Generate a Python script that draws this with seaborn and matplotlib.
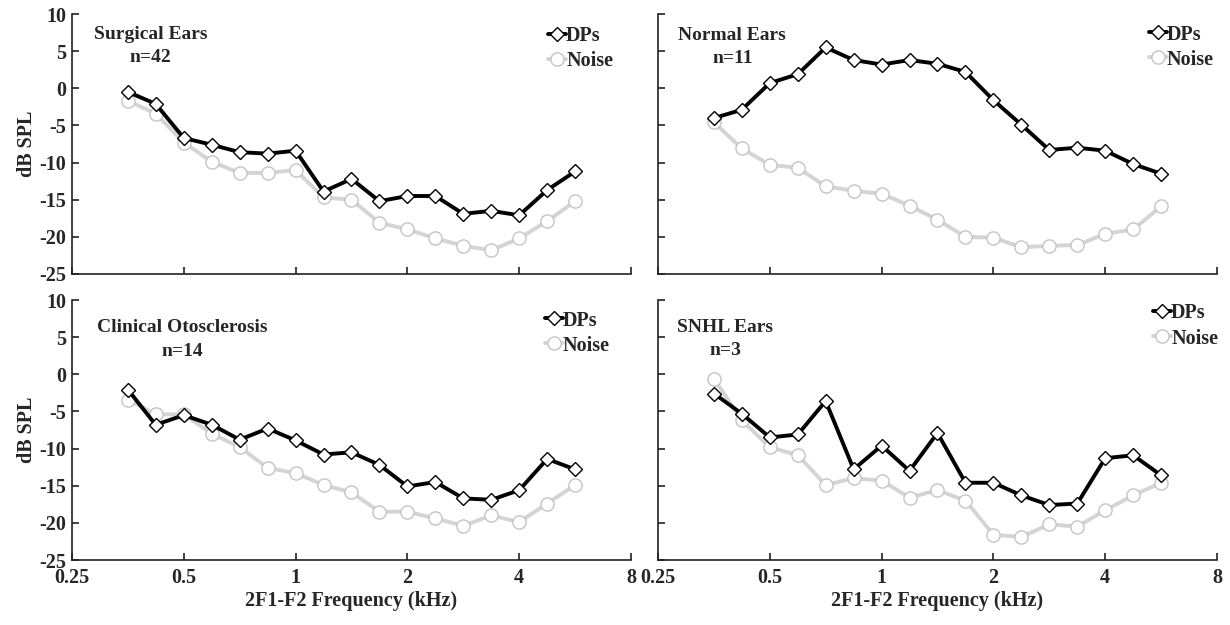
import numpy as np
import pandas as pd
import matplotlib
matplotlib.use("Agg")
import matplotlib.pyplot as plt
import seaborn as sns

sns.set_style("white")
plt.rcParams['font.family'] = ['Liberation Serif', 'DejaVu Serif']
plt.rcParams['font.weight'] = 'bold'

# 2F1-F2 frequencies (kHz), quarter-octave steps
freqs = [0.354, 0.420, 0.500, 0.595, 0.707, 0.841, 1.000, 1.189, 1.414, 1.682,
         2.000, 2.378, 2.828, 3.364, 4.000, 4.757, 5.657]

surgical_dps = [-0.5, -2.1, -6.7, -7.6, -8.6, -8.8, -8.4, -13.9, -12.2, -15.2,
                -14.5, -14.5, -16.9, -16.5, -17.1, -13.7, -11.2]
surgical_noise = [-1.7, -3.4, -7.3, -9.9, -11.4, -11.4, -11.0, -14.7, -15.0, -18.1,
                  -19.0, -20.2, -21.2, -21.8, -20.2, -17.9, -15.2]

normal_dps = [-4.0, -2.9, 0.7, 1.9, 5.5, 3.8, 3.2, 3.8, 3.3, 2.2,
              -1.6, -4.9, -8.3, -8.0, -8.4, -10.2, -11.5]
normal_noise = [-4.6, -8.1, -10.3, -10.7, -13.2, -13.8, -14.2, -15.8, -17.7, -20.0,
                -20.1, -21.4, -21.2, -21.1, -19.6, -19.0, -15.9]

clinical_dps = [-2.1, -6.8, -5.5, -6.8, -8.8, -7.3, -8.9, -10.8, -10.5, -12.2,
                -15.1, -14.5, -16.7, -16.9, -15.6, -11.4, -12.8]
clinical_noise = [-3.4, -5.4, -5.4, -8.0, -9.8, -12.6, -13.3, -14.9, -15.9, -18.5,
                  -18.5, -19.4, -20.4, -19.0, -19.9, -17.4, -14.9]

snhl_dps = [-2.6, -5.3, -8.5, -8.1, -3.6, -12.8, -9.6, -13.0, -7.9, -14.6,
            -14.6, -16.3, -17.6, -17.4, -11.3, -10.9, -13.6]
snhl_noise = [-0.6, -6.2, -9.8, -10.9, -14.9, -14.0, -14.3, -16.6, -15.6, -17.0,
              -21.6, -21.9, -20.2, -20.5, -18.3, -16.3, -14.6]

panel_titles = ["Surgical Ears\nn=42", "Normal Ears\nn=11",
                "Clinical Otosclerosis\nn=14", "SNHL Ears\nn=3"]
series_labels = ["DPs", "Noise"]
x_ticks = [0.25, 0.5, 1, 2, 4, 8]
x_tick_labels = ["0.25", "0.5", "1", "2", "4", "8"]
y_ticks = [10, 5, 0, -5, -10, -15, -20, -25]

panels = [(surgical_dps, surgical_noise), (normal_dps, normal_noise),
          (clinical_dps, clinical_noise), (snhl_dps, snhl_noise)]

fig = plt.figure(figsize=(12.3, 6.25), dpi=100)
W, H = 1230, 625
positions = [
    (72, 14, 559, 260), (658, 14, 559, 260),
    (72, 300, 559, 260), (658, 300, 559, 260),
]
FS = 14.5
title_xy = [(0.14, 0.877), (0.133, 0.873), (0.197, 0.849), (0.12, 0.85)]
legend_xy = [(0.884, 0.866), (0.91, 0.873), (0.878, 0.873), (0.918, 0.90)]
handle_len = 0.9

for i, (px, py, pw, ph) in enumerate(positions):
    ax = fig.add_axes([px / W, 1 - (py + ph) / H, pw / W, ph / H])
    dps, noise = panels[i]
    df = pd.DataFrame({"freq": freqs + freqs,
                       "level": noise + dps,
                       "series": [series_labels[1]] * len(freqs) + [series_labels[0]] * len(freqs)})
    sns.lineplot(data=df[df.series == "Noise"], x="freq", y="level", ax=ax,
                 color="#d4d4d4", linewidth=2.8, marker="o", markersize=9.5,
                 markerfacecolor="white", markeredgecolor="#c4c4c4", markeredgewidth=1.0,
                 label="Noise", zorder=2)
    sns.lineplot(data=df[df.series == "DPs"], x="freq", y="level", ax=ax,
                 color="black", linewidth=2.8, marker="D", markersize=7,
                 markerfacecolor="white", markeredgecolor="black", markeredgewidth=1.0,
                 label="DPs", zorder=3)
    ax.set_xscale("log", base=2)
    ax.set_xlim(0.25, 8)
    ax.set_ylim(-25, 10)
    ax.set_xticks(x_ticks)
    ax.set_yticks(y_ticks)
    ax.minorticks_off()
    for s in ["top", "right"]:
        ax.spines[s].set_visible(False)
    for s in ["left", "bottom"]:
        ax.spines[s].set_color("#222222")
        ax.spines[s].set_linewidth(1.2)
    ax.tick_params(axis="both", direction="in", length=5, width=1.2, color="#222222",
                   labelsize=FS, left=True, bottom=True)
    ax.tick_params(axis="y", pad=4)
    ax.tick_params(axis="x", pad=6)
    if i >= 2:
        ax.set_xticklabels(x_tick_labels, fontweight="bold")
        ax.set_xlabel("2F1-F2 Frequency (kHz)", fontsize=FS, fontweight="bold", labelpad=2)
    else:
        ax.set_xticklabels([])
        ax.set_xlabel("")
    if i % 2 == 0:
        ax.set_yticklabels([str(v) for v in y_ticks], fontweight="bold")
        ax.set_ylabel("dB SPL", fontsize=FS, fontweight="bold", labelpad=2)
    else:
        ax.set_yticklabels([])
        ax.set_ylabel("")
    tx, ty = title_xy[i]
    ax.text(tx, ty, panel_titles[i], transform=ax.transAxes, ha="center", va="center",
            fontsize=14, fontweight="bold", linespacing=1.5)
    h, l = ax.get_legend_handles_labels()
    order = [l.index("DPs"), l.index("Noise")]
    lx, ly = legend_xy[i]
    fs_px = FS * 100 / 72
    anchor_x = lx - handle_len * fs_px / pw
    ax.legend([h[k] for k in order], [l[k] for k in order], loc="center left",
              bbox_to_anchor=(anchor_x, ly), frameon=False, handlelength=handle_len,
              handletextpad=0.0, labelspacing=0.25, borderaxespad=0.0, borderpad=0.0,
              prop={"size": FS, "weight": "bold"})

fig.savefig("out.png", dpi=100)
